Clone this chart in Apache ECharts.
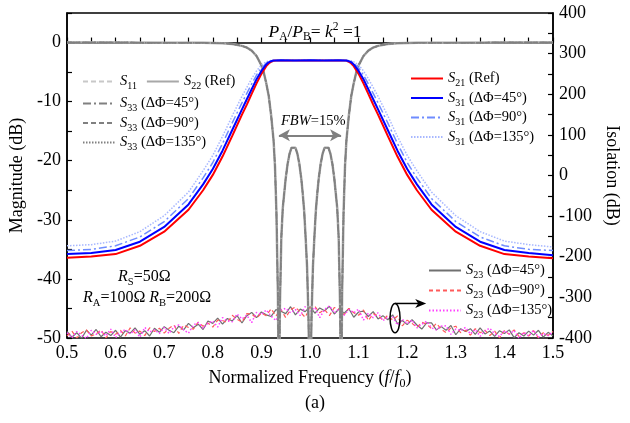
<!DOCTYPE html>
<html><head><meta charset="utf-8">
<script src="https://cdn.jsdelivr.net/npm/echarts@6/dist/echarts.min.js"></script>
<style>html,body{margin:0;padding:0;background:#fff}#c{width:630px;height:423px}</style>
</head><body><div id="c"></div>
<script>
// ---------- data ----------
const xTickLabels = [0.5,0.6,0.7,0.8,0.9,1.0,1.1,1.2,1.3,1.4,1.5];
const leftTickLabels = [0,-10,-20,-30,-40,-50];
const rightTickLabels = [400,300,200,100,0,-100,-200,-300,-400];

// transmission (S21 / S31)
const freqT = [0.50,0.55,0.60,0.65,0.70,0.75,0.78,0.80,0.82,0.84,0.86,0.87,0.88,0.89,0.90,0.91,0.915,0.92,0.925,0.93,
  0.94,0.97,1.00,1.03,1.06,
  1.07,1.075,1.08,1.085,1.09,1.10,1.11,1.12,1.13,1.14,1.16,1.18,1.20,1.22,1.25,1.30,1.35,1.40,1.45,1.50];
const s21Ref = [-36.4,-36.2,-35.8,-34.4,-32.0,-28.3,-25.0,-22.4,-19.3,-15.8,-12.2,-10.5,-8.7,-6.9,-5.3,-4.0,-3.55,-3.25,-3.08,-3.03,
  -3.02,-3.05,-3.02,-3.05,-3.02,
  -3.03,-3.08,-3.25,-3.55,-4.0,-5.3,-6.9,-8.7,-10.5,-12.2,-15.8,-19.3,-22.4,-25.0,-28.3,-32.0,-34.4,-35.8,-36.2,-36.5];
const s31_45 = [-35.8,-35.6,-35.1,-33.7,-31.2,-27.4,-24.0,-21.4,-18.3,-14.8,-11.3,-9.6,-7.9,-6.2,-4.8,-3.7,-3.35,-3.15,-3.05,-3.02,
  -3.01,-3.03,-3.01,-3.03,-3.01,
  -3.02,-3.05,-3.15,-3.35,-3.7,-4.8,-6.2,-7.9,-9.6,-11.3,-14.8,-18.3,-21.4,-24.0,-27.4,-31.2,-33.7,-35.1,-35.6,-36.0];
const s31_90 = [-35.2,-35.0,-34.4,-32.9,-30.3,-26.4,-22.9,-20.3,-17.1,-13.6,-10.2,-8.6,-7.0,-5.5,-4.3,-3.5,-3.22,-3.08,-3.03,-3.02,
  -3.01,-3.02,-3.01,-3.02,-3.01,
  -3.02,-3.03,-3.08,-3.22,-3.5,-4.3,-5.5,-7.0,-8.6,-10.2,-13.6,-17.1,-20.3,-22.9,-26.4,-30.3,-32.9,-34.4,-35.0,-35.2];
const s31_135 = [-34.4,-34.2,-33.6,-32.0,-29.3,-25.3,-21.7,-19.1,-15.9,-12.4,-9.1,-7.6,-6.1,-4.8,-3.8,-3.25,-3.1,-3.04,-3.02,-3.01,
  -3.0,-3.01,-3.0,-3.01,-3.0,
  -3.01,-3.02,-3.04,-3.1,-3.25,-3.8,-4.8,-6.1,-7.6,-9.1,-12.4,-15.9,-19.1,-21.7,-25.3,-29.3,-32.0,-33.6,-34.2,-34.6];

// return loss (S11 / S22 / S33)
const freqR = [0.50,0.60,0.70,0.78,0.82,0.84,0.86,0.87,0.88,0.89,0.90,0.905,0.91,0.915,0.92,0.925,0.928,0.931,0.934,0.936,
  0.938,0.941,0.944,0.947,0.950,0.954,0.958,0.962,0.966,0.970,0.974,0.978,0.982,0.985,0.988,0.991,0.994,0.997,1.000,
  1.003,1.006,1.009,1.012,1.015,1.018,1.022,1.026,1.030,1.034,1.038,1.042,1.046,1.050,1.053,1.056,1.059,1.062,1.064,
  1.066,1.069,1.072,1.075,1.08,1.085,1.09,1.095,1.10,1.11,1.12,1.13,1.14,1.16,1.18,1.22,1.30,1.40,1.50];
const returnLoss = [-0.01,-0.01,-0.02,-0.05,-0.12,-0.23,-0.56,-0.85,-1.37,-2.28,-3.87,-5.1,-6.9,-9.0,-12.3,-16.5,-21,-29,-43,-62,
  -45,-33,-28,-25.5,-23,-20.5,-18.8,-17.8,-17.5,-17.8,-18.8,-20.5,-23,-25.5,-28.5,-33,-38,-47,-65,
  -47,-38,-33,-28.5,-25.5,-23,-20.5,-18.8,-17.8,-17.5,-17.8,-18.8,-20.5,-23,-25.5,-28,-33,-45,-62,
  -43,-29,-21,-16.5,-12.3,-9.0,-6.9,-5.1,-3.87,-2.28,-1.37,-0.85,-0.56,-0.23,-0.12,-0.05,-0.02,-0.01,-0.01];

// isolation (S23), right axis
const freqI = [0.50,0.51,0.52,0.53,0.54,0.55,0.56,0.57,0.58,0.59,0.60,0.61,0.62,0.63,0.64,0.65,0.66,0.67,0.68,0.69,
  0.70,0.71,0.72,0.73,0.74,0.75,0.76,0.77,0.78,0.79,0.80,0.81,0.82,0.83,0.84,0.85,0.86,0.87,0.88,0.89,
  0.90,0.91,0.92,0.93,0.94,0.95,0.96,0.97,0.98,0.99,1.00,1.01,1.02,1.03,1.04,1.05,1.06,1.07,1.08,1.09,
  1.10,1.11,1.12,1.13,1.14,1.15,1.16,1.17,1.18,1.19,1.20,1.21,1.22,1.23,1.24,1.25,1.26,1.27,1.28,1.29,
  1.30,1.31,1.32,1.33,1.34,1.35,1.36,1.37,1.38,1.39,1.40,1.41,1.42,1.43,1.44,1.45,1.46,1.47,1.48,1.49,1.50];
const s23_45 = [-384,-398,-387,-401,-381,-393,-379,-397,-386,-394,-381,-398,-382,-388,-375,-391,-382,-395,-376,-386,
  -372,-381,-387,-371,-380,-364,-375,-366,-379,-358,-364,-351,-366,-352,-358,-345,-363,-345,-337,-350,
  -336,-343,-347,-330,-334,-340,-323,-343,-329,-335,-323,-339,-326,-333,-322,-341,-328,-339,-328,-349,
  -336,-334,-347,-335,-353,-345,-355,-343,-365,-357,-367,-355,-368,-378,-363,-363,-380,-372,-381,-369,
  -392,-377,-384,-377,-391,-375,-390,-383,-396,-382,-389,-380,-399,-387,-395,-383,-393,-381,-398,-386,-395];
const s23_90 = [-395,-383,-400,-387,-380,-395,-390,-380,-400,-384,-391,-381,-395,-375,-388,-383,-394,-375,-384,-376,
  -388,-376,-368,-389,-368,-374,-378,-361,-371,-363,-373,-356,-357,-362,-344,-354,-361,-340,-341,-351,
  -339,-345,-328,-346,-329,-350,-330,-324,-336,-349,-326,-322,-338,-330,-345,-325,-329,-343,-327,-338,
  -344,-331,-357,-340,-345,-356,-344,-356,-346,-370,-356,-364,-374,-361,-366,-377,-364,-378,-387,-375,
  -371,-387,-381,-393,-377,-387,-381,-394,-383,-400,-382,-391,-380,-396,-387,-395,-382,-400,-387,-394,-384];
const s23_135 = [-387,-399,-384,-393,-401,-381,-391,-383,-395,-378,-399,-386,-379,-390,-380,-398,-374,-385,-380,-389,
  -374,-389,-373,-368,-380,-388,-368,-362,-376,-364,-358,-373,-350,-358,-360,-341,-353,-344,-362,-337,
  -342,-331,-346,-357,-331,-327,-338,-330,-345,-323,-334,-325,-350,-330,-321,-338,-328,-344,-330,-338,
  -329,-356,-339,-350,-338,-357,-349,-347,-368,-354,-365,-356,-375,-366,-359,-375,-380,-371,-370,-391,
  -378,-382,-374,-390,-379,-396,-382,-376,-390,-396,-382,-390,-382,-401,-386,-395,-381,-398,-389,-394,-385];

// ---------- chart ----------
const F = 'Liberation Serif';
const zip = (xs, ys) => xs.map((x, i) => [x, ys[i]]);
const chart = echarts.init(document.getElementById('c'), null, {renderer: 'canvas'});

function mkLine(name, xs, ys, color, width, type, yAxisIndex, z) {
  return {
    name, type: 'line', data: zip(xs, ys), yAxisIndex: yAxisIndex || 0,
    symbol: 'none', showSymbol: false, smooth: false, animation: false, z: z || 2,
    lineStyle: {color, width, type}, itemStyle: {color}, emphasis: {disabled: true}
  };
}

const richBase = {
  n: {fontFamily: F, fontSize: 14.5, lineHeight: 20, color: '#000'},
  i: {fontFamily: F, fontSize: 14.5, lineHeight: 20, fontStyle: 'italic', color: '#000'},
  sub: {fontFamily: F, fontSize: 10, lineHeight: 9, verticalAlign: 'bottom', color: '#000'}
};
const labelMap = {
  'S11': '{i|S}{sub|11}',
  'S22': '{i|S}{sub|22}{n| (Ref)}',
  'S33_45': '{i|S}{sub|33}{n| (ΔΦ=45°)}',
  'S33_90': '{i|S}{sub|33}{n| (ΔΦ=90°)}',
  'S33_135': '{i|S}{sub|33}{n| (ΔΦ=135°)}',
  'S21': '{i|S}{sub|21}{n| (Ref)}',
  'S31_45': '{i|S}{sub|31}{n| (ΔΦ=45°)}',
  'S31_90': '{i|S}{sub|31}{n| (ΔΦ=90°)}',
  'S31_135': '{i|S}{sub|31}{n| (ΔΦ=135°)}',
  'S23_45': '{i|S}{sub|23}{n| (ΔΦ=45°)}',
  'S23_90': '{i|S}{sub|23}{n| (ΔΦ=90°)}',
  'S23_135': '{i|S}{sub|23}{n| (ΔΦ=135°)}'
};
function mkLegend(data, left, top, orient, gap) {
  return {
    data, left, top, orient: orient || 'vertical', itemGap: gap == null ? 0 : gap,
    itemWidth: 32, itemHeight: 12, padding: 0, selectedMode: false,
    itemStyle: {opacity: 0, borderWidth: 0},
    formatter: n => labelMap[n],
    textStyle: {fontFamily: F, fontSize: 14.5, color: '#000', rich: richBase}
  };
}

const dashDot = [8, 3, 2, 3];
const series = [
  mkLine('S11', freqR, returnLoss, '#c8c8c8', 1.5, [5, 3], 0, 3),
  mkLine('S22', freqR, returnLoss, '#a8a8a8', 2.5, 'solid', 0, 3),
  mkLine('S33_45', freqR, returnLoss, '#808080', 1.5, dashDot, 0, 3),
  mkLine('S33_90', freqR, returnLoss, '#808080', 1.5, [5, 3], 0, 3),
  mkLine('S33_135', freqR, returnLoss, '#808080', 1.5, [1.5, 1.5], 0, 3),
  mkLine('S21', freqT, s21Ref, '#ff0000', 2, 'solid', 0, 4),
  mkLine('S31_135', freqT, s31_135, '#a8b8ff', 1.5, [1.5, 1.5], 0, 4),
  mkLine('S31_90', freqT, s31_90, '#6f8cff', 1.5, dashDot, 0, 4),
  mkLine('S31_45', freqT, s31_45, '#0000ff', 2, 'solid', 0, 5),
  mkLine('S23_45', freqI, s23_45, '#707070', 1.2, 'solid', 1, 2),
  mkLine('S23_90', freqI, s23_90, '#ff5a5a', 1.2, [4, 3], 1, 2),
  mkLine('S23_135', freqI, s23_135, '#ff40ff', 1.5, [1.5, 2], 1, 2)
];
// FBW double arrow
series[1].markLine = {
  silent: true, animation: false, symbol: ['arrow', 'arrow'], symbolSize: [9, 11],
  lineStyle: {color: '#808080', width: 2, type: 'solid'}, label: {show: false},
  data: [[{coord: [0.936, -15.7]}, {coord: [1.064, -15.7]}]]
};

const axisFont = {fontFamily: F, fontSize: 18, color: '#000'};
const option = {
  backgroundColor: '#fff',
  animation: false,
  grid: {left: 67, right: 77, top: 13, bottom: 85, show: true, borderColor: '#000', borderWidth: 1.5, containLabel: false},
  legend: [
    mkLegend(['S11', 'S22'], 82, 74, 'horizontal', 9),
    mkLegend(['S33_45', 'S33_90', 'S33_135'], 82, 96, 'vertical', 2),
    mkLegend(['S21', 'S31_45', 'S31_90', 'S31_135'], 410, 71, 'vertical', 2),
    mkLegend(['S23_45', 'S23_90', 'S23_135'], 428, 263, 'vertical', 2.5)
  ],
  xAxis: {
    type: 'value', min: 0.5, max: 1.5, interval: 0.05,
    name: '{n|Normalized Frequency (}{i|f}{n|/}{i|f}{sub|0}{n|)}', nameLocation: 'middle', nameGap: 28,
    nameTextStyle: {rich: {
      n: {fontFamily: F, fontSize: 18, lineHeight: 24, color: '#000'},
      i: {fontFamily: F, fontSize: 18, lineHeight: 24, fontStyle: 'italic', color: '#000'},
      sub: {fontFamily: F, fontSize: 12, lineHeight: 11, verticalAlign: 'bottom', color: '#000'}
    }},
    axisLine: {lineStyle: {color: '#000', width: 1.5}},
    axisTick: {inside: true, length: 5, lineStyle: {color: '#000', width: 1.2}},
    axisLabel: Object.assign({margin: 6, formatter: v => {
      const hit = xTickLabels.find(t => Math.abs(t - v) < 1e-6);
      return hit != null ? hit.toFixed(1) : '';
    }}, axisFont),
    splitLine: {show: false}
  },
  yAxis: [
    {
      type: 'value', min: -50, max: 5, interval: 5, position: 'left',
      name: 'Magnitude (dB)', nameLocation: 'middle', nameGap: 40, nameRotate: 90,
      nameTextStyle: {fontFamily: F, fontSize: 18, color: '#000'},
      axisLine: {show: true, lineStyle: {color: '#000', width: 1.5}},
      axisTick: {inside: true, length: 5, lineStyle: {color: '#000', width: 1.2}},
      axisLabel: Object.assign({margin: 6, formatter: v => leftTickLabels.includes(v) ? String(v) : ''}, axisFont),
      splitLine: {show: false}
    },
    {
      type: 'value', min: -400, max: 400, interval: 50, position: 'right',
      name: 'Isolation (dB)', nameLocation: 'middle', nameGap: 50, nameRotate: 270,
      nameTextStyle: {fontFamily: F, fontSize: 18, color: '#000'},
      axisLine: {show: true, lineStyle: {color: '#000', width: 1.5}},
      axisTick: {inside: true, length: 5, lineStyle: {color: '#000', width: 1.2}},
      axisLabel: Object.assign({margin: 6, formatter: v => rightTickLabels.includes(v) ? String(v) : ''}, axisFont),
      splitLine: {show: false}
    }
  ],
  series
};
chart.setOption(option);

// annotations
function mkRich(size) {
  return {
    n: {fontFamily: F, fontSize: size, lineHeight: 22, color: '#000'},
    i: {fontFamily: F, fontSize: size, lineHeight: 22, fontStyle: 'italic', color: '#000'},
    sub: {fontFamily: F, fontSize: size * 0.66, lineHeight: 10, verticalAlign: 'bottom', color: '#000'},
    sup: {fontFamily: F, fontSize: size * 0.66, lineHeight: 10, verticalAlign: 'top', color: '#000'}
  };
}
const ctr = chart.convertToPixel({xAxisIndex: 0, yAxisIndex: 1}, [1.175, -351]);
const top0 = chart.convertToPixel({xAxisIndex: 0, yAxisIndex: 1}, [1.175, -315]);
const ry = (top0[1] - ctr[1]) * -1;
const arrowEnd = chart.convertToPixel({xAxisIndex: 0, yAxisIndex: 1}, [1.235, -315]);
chart.setOption({
  graphic: [
    {type: 'text', left: 'center', top: 21, style: {text: '{i|P}{sub|A}{n|/}{i|P}{sub|B}{n|= }{i|k}{sup|2}{n| =1}', rich: mkRich(17.5)}},
    {type: 'text', x: 281, y: 110, style: {text: '{i|FBW}{n|=15%}', rich: mkRich(14.5)}},
    {type: 'text', x: 118, y: 266, style: {text: '{i|R}{sub|S}{n|=50Ω}', rich: mkRich(16)}},
    {type: 'text', x: 83, y: 287, style: {text: '{i|R}{sub|A}{n|=100Ω }{i|R}{sub|B}{n|=200Ω}', rich: mkRich(16)}},
    {type: 'text', left: 'center', top: 394, style: {text: '(a)', fontFamily: F, fontSize: 18, fill: '#000'}},
    {type: 'ellipse', z: 20, shape: {cx: ctr[0], cy: ctr[1], rx: 5, ry: ry}, style: {fill: 'none', stroke: '#000', lineWidth: 1.5}},
    {type: 'line', z: 20, shape: {x1: top0[0], y1: top0[1], x2: arrowEnd[0] - 4, y2: top0[1]}, style: {stroke: '#000', lineWidth: 1.5}},
    {type: 'polygon', z: 20, shape: {points: [[arrowEnd[0] + 2, top0[1]], [arrowEnd[0] - 9, top0[1] - 4.5], [arrowEnd[0] - 6, top0[1]], [arrowEnd[0] - 9, top0[1] + 4.5]]}, style: {fill: '#000'}}
  ]
});
</script>
</body></html>
